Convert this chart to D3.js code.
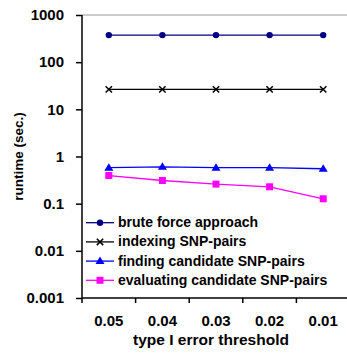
<!DOCTYPE html>
<html><head><meta charset="utf-8">
<script src="https://cdn.jsdelivr.net/npm/d3@7/dist/d3.min.js"></script>
<style>body{margin:0;background:#fff}svg{display:block}text{font-family:"Liberation Sans",Arial,sans-serif;font-weight:bold;fill:#000}</style>
</head><body><svg id="c" width="347" height="354"></svg>
<script>
const categories = ["0.05","0.04","0.03","0.02","0.01"];
const bruteForce = [375,375,375,375,375];
const indexing = [26.5,26.5,26.5,26.5,26.5];
const finding = [0.58,0.605,0.58,0.58,0.55];
const evaluating = [0.395,0.31,0.26,0.228,0.127];
const yTicks = [1000,100,10,1,0.1,0.01,0.001];
const yTickLabels = ["1000","100","10","1","0.1","0.01","0.001"];
const seriesNames = ["brute force approach","indexing SNP-pairs","finding candidate SNP-pairs","evaluating candidate SNP-pairs"];

const series = [
  {name:seriesNames[0], values:bruteForce, color:"#000080", marker:"circle"},
  {name:seriesNames[1], values:indexing, color:"#000000", marker:"x"},
  {name:seriesNames[2], values:finding, color:"#0000ff", marker:"triangle"},
  {name:seriesNames[3], values:evaluating, color:"#ff00ff", marker:"square"}
];

const svg = d3.select("#c");
const mLeft = 82, mRight = 350, mTop = 15, mBottom = 298;
const x = d3.scaleBand().domain(categories).range([mLeft, mRight]);
const y = d3.scaleLog().domain([0.001, 1000]).range([mBottom, mTop]);

// top gray line
svg.append("line").attr("x1", mLeft).attr("x2", 347).attr("y1", y(1000)).attr("y2", y(1000))
  .attr("stroke", "#bbb").attr("stroke-width", 1.5);

// y axis
const ya = svg.append("g").attr("transform", `translate(${mLeft},0)`)
  .call(d3.axisLeft(y).tickValues(yTicks).tickFormat((d,i)=>yTickLabels[i]).tickSize(6).tickPadding(12));
ya.select(".domain").attr("stroke", "#000").attr("stroke-width", 1.5).attr("d", `M0,${mTop}V${mBottom}`);
ya.selectAll(".tick line").attr("stroke", "#000").attr("stroke-width", 1.5);
ya.selectAll(".tick text").style("font-size", "15px").attr("font-family", null);

// x axis
const xa = svg.append("g").attr("transform", `translate(0,${mBottom})`)
  .call(d3.axisBottom(x).tickSize(0).tickPadding(17));
xa.select(".domain").attr("stroke", "#000").attr("stroke-width", 1.5).attr("d", `M${mLeft},0H347`);
xa.selectAll(".tick text").style("font-size", "15px").attr("font-family", null);
const bounds = categories.map(c => x(c)).concat([x(categories[categories.length-1]) + x.bandwidth()]);
svg.append("g").selectAll("line").data(bounds).join("line")
  .attr("x1", d => d).attr("x2", d => d).attr("y1", mBottom).attr("y2", mBottom + 5)
  .attr("stroke", "#000").attr("stroke-width", 1.5);

// titles
svg.append("text").attr("x", 211).attr("y", 344.5).attr("text-anchor", "middle")
  .style("font-size", "15.5px").text("type I error threshold");
svg.append("text").attr("transform", "translate(22.5,156.5) rotate(-90)").attr("text-anchor", "middle")
  .style("font-size", "13.5px").text("runtime (sec.)");

function drawMarker(g, type, color, cx, cy) {
  if (type === "circle") g.append("circle").attr("cx", cx).attr("cy", cy).attr("r", 3.2).attr("fill", color);
  else if (type === "x") {
    g.append("path").attr("d", `M${cx-3.2},${cy-3.2}L${cx+3.2},${cy+3.2}M${cx-3.2},${cy+3.2}L${cx+3.2},${cy-3.2}`)
      .attr("stroke", color).attr("stroke-width", 1.5);
  } else if (type === "triangle") {
    g.append("path").attr("d", `M${cx},${cy-4.5}L${cx+4.5},${cy+3}L${cx-4.5},${cy+3}Z`).attr("fill", color);
  } else if (type === "square") {
    g.append("rect").attr("x", cx-3.5).attr("y", cy-3.5).attr("width", 7).attr("height", 7).attr("fill", color);
  }
}

const cx = c => x(c) + x.bandwidth()/2;
series.forEach(s => {
  const g = svg.append("g");
  g.append("path").datum(s.values)
    .attr("d", d3.line().x((d,i)=>cx(categories[i])).y(d=>y(d)))
    .attr("fill", "none").attr("stroke", s.color).attr("stroke-width", 1.3);
  s.values.forEach((v,i) => drawMarker(g, s.marker, s.color, cx(categories[i]), y(v)));
});

// legend
const lg = svg.append("g");
series.forEach((s,i) => {
  const ly = 222.7 + i*19.2;
  lg.append("line").attr("x1", 86).attr("x2", 114).attr("y1", ly).attr("y2", ly)
    .attr("stroke", s.color).attr("stroke-width", 1.3);
  drawMarker(lg, s.marker, s.color, 100, ly);
  lg.append("text").attr("x", 118).attr("y", ly + 4.5).style("font-size", "14px").text(s.name);
});
</script></body></html>
